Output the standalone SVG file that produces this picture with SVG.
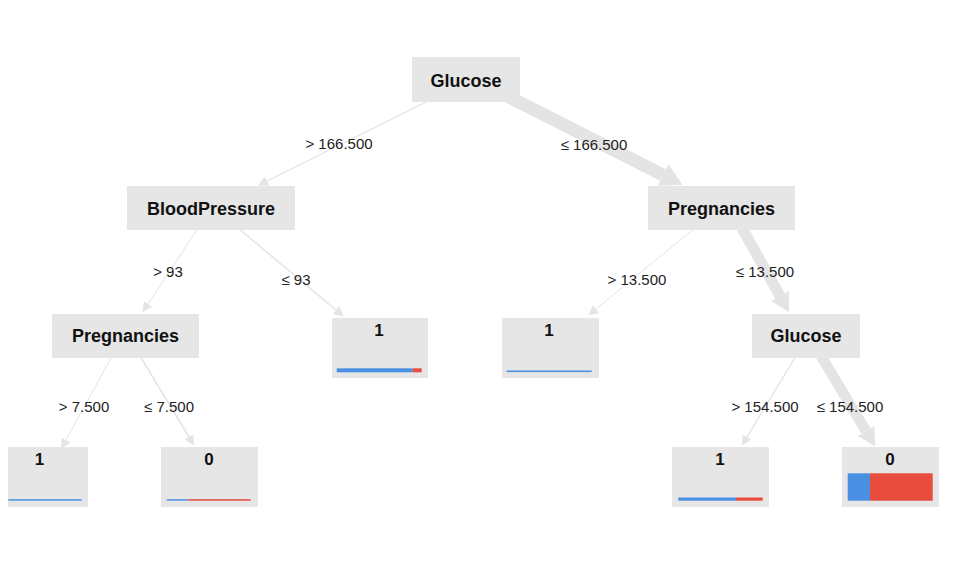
<svg xmlns="http://www.w3.org/2000/svg" width="961" height="580" viewBox="0 0 961 580">
<style>
.edge{stroke:#e4e4e4;fill:none;stroke-linecap:butt}
.node{fill:#e6e6e6}
.name{font-family:"Liberation Sans",Arial,sans-serif;font-weight:bold;font-size:18px;fill:#111;text-anchor:middle}
.cls{font-family:"Liberation Sans",Arial,sans-serif;font-weight:bold;font-size:17px;fill:#111;text-anchor:middle}
.lbl{font-family:"Liberation Sans",Arial,sans-serif;font-size:15px;fill:#222;text-anchor:middle}
.b{fill:#4a90e2}
.r{fill:#e74c3c}
</style>
<defs>
<marker id="thin" markerUnits="userSpaceOnUse" viewBox="0 0 10 10" markerWidth="10" markerHeight="10" refX="0" refY="5" orient="auto">
<path d="M0,0 L10,5 L0,10 z" fill="#e4e4e4"/>
</marker>
<marker id="thick" markerUnits="strokeWidth" viewBox="0 0 10 10" preserveAspectRatio="none" markerWidth="1.7" markerHeight="1.85" refX="0" refY="5" orient="auto">
<path d="M0,0 L10,5 L0,10 z" fill="#e4e4e4"/>
</marker>
</defs>
<rect width="961" height="580" fill="#ffffff"/>
<g id="connectors">
<line class="edge" x1="430" y1="100" x2="267" y2="181" stroke-width="1.3" marker-end="url(#thin)"/>
<line class="edge" x1="505" y1="95" x2="663" y2="175" stroke-width="13" marker-end="url(#thick)"/>
<line class="edge" x1="198" y1="228" x2="148" y2="304" stroke-width="1" marker-end="url(#thin)"/>
<line class="edge" x1="238" y1="228" x2="336" y2="310" stroke-width="1.5" marker-end="url(#thin)"/>
<line class="edge" x1="695" y1="228" x2="596" y2="309" stroke-width="1" marker-end="url(#thin)"/>
<line class="edge" x1="742" y1="228" x2="780" y2="296" stroke-width="11" marker-end="url(#thick)"/>
<line class="edge" x1="112" y1="356" x2="66" y2="440" stroke-width="1" marker-end="url(#thin)"/>
<line class="edge" x1="140" y1="356" x2="189" y2="437" stroke-width="1.5" marker-end="url(#thin)"/>
<line class="edge" x1="796" y1="356" x2="747" y2="437" stroke-width="1.4" marker-end="url(#thin)"/>
<line class="edge" x1="821" y1="356" x2="866" y2="431" stroke-width="10.5" marker-end="url(#thick)"/>
<text class="lbl" x="339" y="149">&gt; 166.500</text>
<text class="lbl" x="594" y="150">≤ 166.500</text>
<text class="lbl" x="168" y="277">&gt; 93</text>
<text class="lbl" x="296" y="285">≤ 93</text>
<text class="lbl" x="637" y="285">&gt; 13.500</text>
<text class="lbl" x="765" y="277">≤ 13.500</text>
<text class="lbl" x="84" y="412">&gt; 7.500</text>
<text class="lbl" x="169" y="412">≤ 7.500</text>
<text class="lbl" x="765" y="412">&gt; 154.500</text>
<text class="lbl" x="850" y="412">≤ 154.500</text>
</g>
<g id="n_root">
<rect class="node" x="412" y="57" width="108" height="45"/>
<text class="name" x="466" y="87">Glucose</text>
</g>
<g id="n_bp">
<rect class="node" x="127" y="186" width="168" height="44"/>
<text class="name" x="211" y="215">BloodPressure</text>
</g>
<g id="n_preg_r">
<rect class="node" x="648" y="186" width="147" height="44"/>
<text class="name" x="721.5" y="215">Pregnancies</text>
</g>
<g id="n_preg_l">
<rect class="node" x="52" y="314" width="147" height="44"/>
<text class="name" x="125.5" y="342">Pregnancies</text>
</g>
<g id="n_gluc_r">
<rect class="node" x="752" y="314" width="108" height="44"/>
<text class="name" x="806" y="342">Glucose</text>
</g>
<g id="leaf_1a">
<rect class="node" x="332" y="318" width="96" height="60"/>
<text class="cls" x="379" y="336">1</text>
<rect class="b" x="336.7" y="368.3" width="76" height="4"/>
<rect class="r" x="412.7" y="368.3" width="9" height="4"/>
</g>
<g id="leaf_1b">
<rect class="node" x="502" y="318" width="97" height="60"/>
<text class="cls" x="549" y="336">1</text>
<rect class="b" x="506.7" y="370.5" width="85" height="1.6"/>
</g>
<g id="leaf_1c">
<rect class="node" x="8" y="447" width="80" height="60"/>
<text class="cls" x="39.5" y="465">1</text>
<rect class="b" x="8.3" y="499.2" width="73.4" height="1.5"/>
</g>
<g id="leaf_0a">
<rect class="node" x="161" y="447" width="97" height="60"/>
<text class="cls" x="209" y="465">0</text>
<rect class="b" x="166.7" y="499.2" width="21.6" height="1.5"/>
<rect class="r" x="188.3" y="499.2" width="62.4" height="1.5"/>
</g>
<g id="leaf_1d">
<rect class="node" x="672" y="447" width="97" height="60"/>
<text class="cls" x="720" y="465">1</text>
<rect class="b" x="678.3" y="497.5" width="57.7" height="3.2"/>
<rect class="r" x="736" y="497.5" width="26.7" height="3.2"/>
</g>
<g id="leaf_0b">
<rect class="node" x="842" y="447" width="97" height="60"/>
<text class="cls" x="890" y="465">0</text>
<rect class="b" x="847.7" y="473.3" width="22.3" height="27.4"/>
<rect class="r" x="870" y="473.3" width="62.7" height="27.4"/>
</g>
</svg>
